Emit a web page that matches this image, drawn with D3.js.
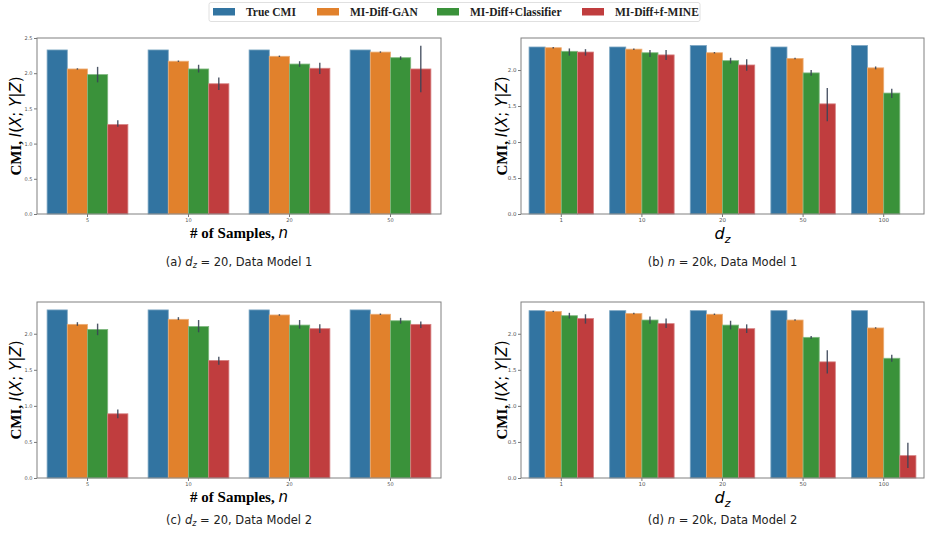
<!DOCTYPE html>
<html>
<head>
<meta charset="utf-8">
<script src="https://cdn.jsdelivr.net/npm/d3@7"></script>
<style>
  body { margin: 0; background: #fff; }
  svg { display: block; }
  .tick text { fill: #555; font-family: "DejaVu Sans", sans-serif; }
  .tick line { stroke: #777; }
  .domain { stroke: none; }
</style>
</head>
<body>
<svg width="933" height="534"></svg>
<script>
// categories
var samplesCats = ["5", "10", "20", "50"];
var dzCats = ["1", "10", "20", "50", "100"];
var seriesNames = ["True CMI", "MI-Diff-GAN", "MI-Diff+Classifier", "MI-Diff+f-MINE"];
var colors = ["#3274a1", "#e1812c", "#3a923a", "#c03d3e"];

// (a) d_z = 20, Data Model 1
var trueA = [2.33, 2.33, 2.33, 2.33];
var ganA = [2.06, 2.17, 2.24, 2.30];
var clfA = [1.98, 2.06, 2.13, 2.22];
var mineA = [1.27, 1.85, 2.07, 2.06];
var ganErrA = [[2.05, 2.07], [2.16, 2.18], [2.23, 2.25], [2.29, 2.31]];
var clfErrA = [[1.87, 2.09], [2.01, 2.12], [2.09, 2.17], [2.19, 2.24]];
var mineErrA = [[1.24, 1.33], [1.76, 1.94], [1.99, 2.15], [1.73, 2.39]];

// (b) n = 20k, Data Model 1
var trueB = [2.32, 2.32, 2.34, 2.32, 2.34];
var ganB = [2.31, 2.29, 2.24, 2.16, 2.03];
var clfB = [2.26, 2.24, 2.13, 1.96, 1.68];
var mineB = [2.25, 2.21, 2.07, 1.53, null];
var ganErrB = [[2.30, 2.32], [2.28, 2.30], [2.23, 2.25], [2.15, 2.17], [2.01, 2.05]];
var clfErrB = [[2.20, 2.30], [2.18, 2.28], [2.09, 2.17], [1.92, 2.00], [1.61, 1.74]];
var mineErrB = [[2.20, 2.29], [2.14, 2.28], [1.99, 2.15], [1.29, 1.75], null];

// (c) d_z = 20, Data Model 2
var trueC = [2.33, 2.33, 2.33, 2.33];
var ganC = [2.13, 2.20, 2.26, 2.27];
var clfC = [2.06, 2.10, 2.12, 2.18];
var mineC = [0.89, 1.63, 2.07, 2.13];
var ganErrC = [[2.11, 2.16], [2.19, 2.23], [2.25, 2.27], [2.26, 2.28]];
var clfErrC = [[1.98, 2.14], [2.02, 2.19], [2.07, 2.19], [2.14, 2.22]];
var mineErrC = [[0.83, 0.95], [1.57, 1.68], [2.01, 2.13], [2.08, 2.17]];

// (d) n = 20k, Data Model 2
var trueD = [2.32, 2.32, 2.32, 2.32, 2.32];
var ganD = [2.31, 2.28, 2.27, 2.19, 2.08];
var clfD = [2.25, 2.19, 2.12, 1.95, 1.66];
var mineD = [2.21, 2.14, 2.07, 1.61, 0.31];
var ganErrD = [[2.30, 2.32], [2.27, 2.29], [2.26, 2.28], [2.18, 2.20], [2.07, 2.09]];
var clfErrD = [[2.21, 2.29], [2.14, 2.24], [2.06, 2.18], [1.93, 1.97], [1.61, 1.71]];
var mineErrD = [[2.14, 2.27], [2.08, 2.21], [2.01, 2.13], [1.45, 1.77], [0.14, 0.49]];

var svg = d3.select("svg");

var panels = [
  { cats: samplesCats, vals: [trueA, ganA, clfA, mineA], errs: [null, ganErrA, clfErrA, mineErrA],
    x0: 37, x1: 441, y0: 38, y1: 214, ymax: 2.5, ticks: [0, 0.5, 1, 1.5, 2, 2.5], fs: 5,
    xlab: "samples", letter: "(a) ", param: "d", rest: " = 20, Data Model 1", capY: 266 },
  { cats: dzCats, vals: [trueB, ganB, clfB, mineB], errs: [null, ganErrB, clfErrB, mineErrB],
    x0: 521, x1: 924, y0: 38, y1: 214, ymax: 2.445, ticks: [0, 0.5, 1, 1.5, 2], fs: 5.5,
    xlab: "dz", letter: "(b) ", param: "n", rest: " = 20k, Data Model 1", capY: 266 },
  { cats: samplesCats, vals: [trueC, ganC, clfC, mineC], errs: [null, ganErrC, clfErrC, mineErrC],
    x0: 37, x1: 441, y0: 302, y1: 478, ymax: 2.44, ticks: [0, 0.5, 1, 1.5, 2], fs: 5,
    xlab: "samples", letter: "(c) ", param: "d", rest: " = 20, Data Model 2", capY: 524 },
  { cats: dzCats, vals: [trueD, ganD, clfD, mineD], errs: [null, ganErrD, clfErrD, mineErrD],
    x0: 521, x1: 924, y0: 302, y1: 478, ymax: 2.44, ticks: [0, 0.5, 1, 1.5, 2], fs: 5.5,
    xlab: "dz", letter: "(d) ", param: "n", rest: " = 20k, Data Model 2", capY: 524 }
];

function lighter(c) {
  return d3.interpolateRgb(c, "#fff")(0.35);
}

panels.forEach(function(p) {
  var g = svg.append("g");

  var x = d3.scaleBand().domain(p.cats).range([p.x0, p.x1])
      .paddingInner(0.2).paddingOuter(0.1);
  var xs = d3.scaleBand().domain(d3.range(seriesNames.length)).range([0, x.bandwidth()]);
  var y = d3.scaleLinear().domain([0, p.ymax]).range([p.y1, p.y0]);

  // bars
  p.vals.forEach(function(vals, s) {
    g.append("g").selectAll("rect")
      .data(p.cats.map(function(c, i) { return { cat: c, v: vals[i] }; })
        .filter(function(d) { return d.v != null; }))
      .enter().append("rect")
      .attr("x", function(d) { return x(d.cat) + xs(s); })
      .attr("y", function(d) { return y(d.v); })
      .attr("width", xs.bandwidth())
      .attr("height", function(d) { return y(0) - y(d.v); })
      .attr("fill", colors[s])
      .attr("stroke", lighter(colors[s]))
      .attr("stroke-width", 0.8);
  });

  // error bars
  p.errs.forEach(function(errs, s) {
    if (!errs) return;
    g.append("g").selectAll("line")
      .data(p.cats.map(function(c, i) { return { cat: c, e: errs[i] }; })
        .filter(function(d) { return d.e != null; }))
      .enter().append("line")
      .attr("x1", function(d) { return x(d.cat) + xs(s) + xs.bandwidth() / 2; })
      .attr("x2", function(d) { return x(d.cat) + xs(s) + xs.bandwidth() / 2; })
      .attr("y1", function(d) { return y(d.e[0]); })
      .attr("y2", function(d) { return y(d.e[1]); })
      .attr("stroke", "#3a4556")
      .attr("stroke-opacity", 0.9)
      .attr("stroke-width", 1.4);
  });

  // axes
  var ax = g.append("g")
    .attr("transform", "translate(0," + p.y1 + ")")
    .call(d3.axisBottom(x).tickSize(3).tickPadding(1.5));
  ax.selectAll("text").style("font-size", p.fs + "px");

  var ay = g.append("g")
    .attr("transform", "translate(" + p.x0 + ",0)")
    .call(d3.axisLeft(y).tickValues(p.ticks).tickFormat(d3.format(".1f")).tickSize(3).tickPadding(1.5));
  ay.selectAll("text").style("font-size", p.fs + "px");

  // frame
  g.append("rect")
    .attr("x", p.x0).attr("y", p.y0)
    .attr("width", p.x1 - p.x0).attr("height", p.y1 - p.y0)
    .attr("fill", "none").attr("stroke", "#808080").attr("stroke-width", 1);

  // y label
  var yl = g.append("text")
    .attr("transform", "translate(" + (p.x0 < 100 ? 21 : 507) + "," + ((p.y0 + p.y1) / 2) + ") rotate(-90)")
    .attr("text-anchor", "middle")
    .style("font-size", "15px")
    .attr("fill", "#000");
  yl.append("tspan").style("font-family", "Liberation Serif, serif").style("font-weight", "bold").text("CMI, ");
  [["I", 1], ["(", 0], ["X", 1], ["; ", 0], ["Y", 1], ["|", 0], ["Z", 1], [")", 0]].forEach(function(t) {
    yl.append("tspan").style("font-family", "DejaVu Sans, sans-serif")
      .style("font-style", t[1] ? "italic" : "normal").text(t[0]);
  });

  // x label
  var cx = (p.x0 + p.x1) / 2;
  if (p.xlab === "samples") {
    var xl = g.append("text").attr("x", cx).attr("y", p.y1 + 24)
      .attr("text-anchor", "middle").style("font-size", "15px");
    xl.append("tspan").style("font-family", "Liberation Serif, serif").style("font-weight", "bold").text("# of Samples, ");
    xl.append("tspan").style("font-family", "DejaVu Sans, sans-serif").style("font-style", "italic").text("n");
  } else {
    var dl = g.append("text").attr("x", cx).attr("y", p.y1 + 24.5)
      .attr("text-anchor", "middle").style("font-family", "DejaVu Sans, sans-serif");
    dl.append("tspan").style("font-size", "16px").style("font-style", "italic").text("d");
    dl.append("tspan").style("font-size", "11px").style("font-style", "italic").attr("dy", 4).text("z");
  }

  // caption
  var cap = g.append("text").attr("x", cx).attr("y", p.capY)
    .attr("text-anchor", "middle")
    .style("font-family", "DejaVu Sans, sans-serif").style("font-size", "11.5px").attr("fill", "#222");
  cap.append("tspan").text(p.letter);
  cap.append("tspan").style("font-style", "italic").text(p.param);
  if (p.param === "d") {
    cap.append("tspan").style("font-style", "italic").style("font-size", "8px").attr("dy", 2).text("z");
    cap.append("tspan").attr("dy", -2).text(p.rest);
  } else {
    cap.append("tspan").text(p.rest);
  }
});

// legend
var lg = svg.append("g");
lg.append("rect").attr("x", 209).attr("y", 2.5).attr("width", 491).attr("height", 19)
  .attr("rx", 2).attr("fill", "#fff").attr("stroke", "#d8d8d8").attr("stroke-width", 0.8);
var legX = [213, 317, 437, 582];
seriesNames.forEach(function(name, i) {
  lg.append("rect").attr("x", legX[i]).attr("y", 8).attr("width", 22).attr("height", 7.5)
    .attr("fill", colors[i]);
  lg.append("text").attr("x", legX[i] + 33).attr("y", 15.5)
    .style("font-family", "Liberation Serif, serif").style("font-weight", "bold")
    .style("font-size", "11.5px").attr("fill", "#222").text(name);
});
</script>
</body>
</html>
